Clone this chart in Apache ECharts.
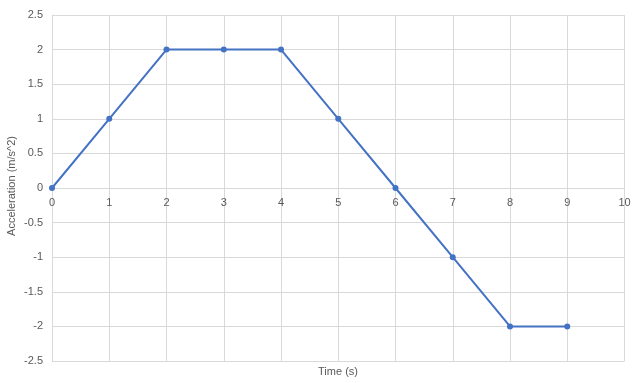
<!DOCTYPE html>
<html><head><meta charset="utf-8">
<script src="https://cdn.jsdelivr.net/npm/echarts@6/dist/echarts.min.js"></script>
<style>html,body{margin:0;padding:0;background:#fff}#c{width:640px;height:383px}</style>
</head><body><div id="c"></div>
<script>
const timeValues = [0, 1, 2, 3, 4, 5, 6, 7, 8, 9];
const accelValues = [0, 1, 2, 2, 2, 1, 0, -1, -2, -2];
const xTitle = 'Time (s)';
const yTitle = 'Acceleration (m/s^2)';

const chart = echarts.init(document.getElementById('c'), null, {renderer: 'canvas'});
const font = 'Liberation Sans, Arial, sans-serif';
const gridTop = 15, gridBottom = 22, H = 383;
const plotH = H - gridTop - gridBottom;
chart.setOption({
  animation: false,
  grid: {left: 52, right: 15.5, top: gridTop, bottom: gridBottom, containLabel: false},
  xAxis: {
    type: 'value', min: 0, max: 10, interval: 1, position: 'bottom',
    offset: -plotH / 2,
    axisLine: {show: true, onZero: false, lineStyle: {color: '#d9d9d9', width: 1}},
    axisTick: {show: false},
    axisLabel: {color: '#595959', fontSize: 11, fontFamily: font, margin: 9},
    splitLine: {show: true, lineStyle: {color: '#d9d9d9', width: 1}}
  },
  yAxis: {
    type: 'value', min: -2.5, max: 2.5, interval: 0.5, position: 'left',
    axisLine: {show: true, onZero: false, lineStyle: {color: '#d9d9d9', width: 1}},
    axisTick: {show: false},
    axisLabel: {color: '#595959', fontSize: 11, fontFamily: font, margin: 9},
    splitLine: {show: true, lineStyle: {color: '#d9d9d9', width: 1}}
  },
  graphic: [
    {type: 'text', x: 338, y: 372, style: {text: xTitle, fill: '#595959', font: '11px ' + font, align: 'center', verticalAlign: 'middle'}},
    {type: 'text', rotation: Math.PI / 2, x: 12, y: 186, style: {text: yTitle, fill: '#595959', font: '11px ' + font, align: 'center', verticalAlign: 'middle'}}
  ],
  series: [{
    type: 'line',
    data: timeValues.map((t, i) => [t, accelValues[i]]),
    symbol: 'circle', symbolSize: 6,
    lineStyle: {color: '#4472c4', width: 2},
    itemStyle: {color: '#4472c4'}
  }]
});
</script></body></html>
